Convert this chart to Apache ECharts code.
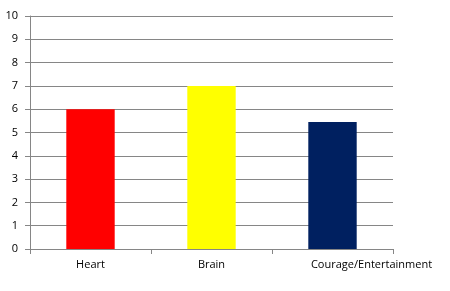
<!DOCTYPE html>
<html>
<head>
<meta charset="utf-8">
<script src="https://cdn.jsdelivr.net/npm/echarts@6/dist/echarts.min.js"></script>
<style>
  html, body { margin: 0; padding: 0; background: #fff; }
  #chart { width: 450px; height: 291px; }
</style>
</head>
<body>
<div id="chart"></div>
<script>
const categories = ['Heart', 'Brain', 'Courage/Entertainment'];
const values = [6, 7, 5.45];
const barColors = ['#ff0000', '#ffff00', '#002060'];

var myChart = echarts.init(document.getElementById('chart'));

var option = {
  animation: false,
  textStyle: { fontFamily: 'Open Sans' },
  grid: { left: 30, right: 57, top: 16, bottom: 42, outerBoundsMode: 'none' },
  xAxis: {
    type: 'category',
    data: categories,
    axisLine: { lineStyle: { color: '#868686' } },
    axisTick: { show: true, length: 5, lineStyle: { color: '#868686' } },
    axisLabel: {
      color: '#000', fontSize: 11, margin: 10, interval: 0,
      // last label sits off-centre to the right, like the original
      formatter: (v, i) => i === 2 ? '{shift|' + v + '}' : v,
      rich: { shift: { color: '#000', fontSize: 11, padding: [0, 0, 0, 78] } }
    }
  },
  yAxis: {
    type: 'value',
    min: 0,
    max: 10,
    interval: 1,
    axisLine: { show: true, lineStyle: { color: '#868686' } },
    axisTick: { show: true, length: 5, lineStyle: { color: '#868686' } },
    splitLine: { lineStyle: { color: '#868686' } },
    axisLabel: { color: '#000', fontSize: 11, margin: 12 }
  },
  series: [
    {
      type: 'bar',
      barWidth: '40%',
      data: values.map((v, i) => ({ value: v, itemStyle: { color: barColors[i] } }))
    }
  ]
};

myChart.setOption(option);
</script>
</body>
</html>
